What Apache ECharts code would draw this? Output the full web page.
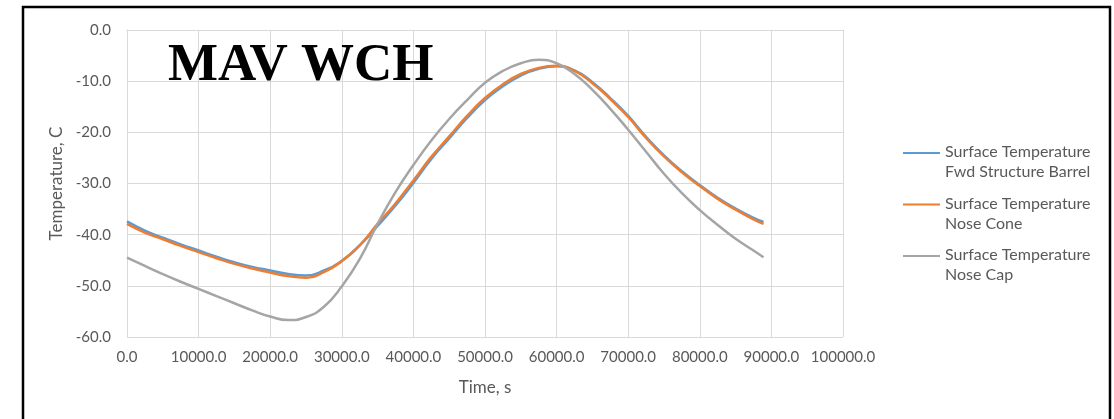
<!DOCTYPE html>
<html>
<head>
<meta charset="utf-8">
<script src="https://cdn.jsdelivr.net/npm/echarts@6/dist/echarts.min.js"></script>
<style>
  html, body { margin: 0; padding: 0; background: #fff; }
  #chart { width: 1114px; height: 419px; }
</style>
</head>
<body>
<div id="chart"></div>
<script>
// time, s
var times = [0, 2500, 5000, 7500, 10000, 12500, 15000, 17500, 20000, 22500, 25000, 27500,
  30000, 32500, 35000, 37500, 40000, 42500, 45000, 47500, 50000, 52500, 55000, 57500,
  60000, 62500, 65000, 67500, 70000, 72500, 75000, 77500, 80000, 82500, 85000, 87500, 88900];

var fwdBarrel = [-37.4, -39.2, -40.6, -41.9, -43.1, -44.3, -45.4, -46.3, -47.0, -47.7, -48.0, -47.0,
  -45.1, -42.1, -38.3, -34.3, -29.9, -25.2, -21.2, -17.2, -13.7, -11.0, -8.9, -7.6,
  -7.1, -7.9, -10.2, -13.3, -16.8, -20.9, -24.5, -27.6, -30.3, -32.8, -34.9, -36.7, -37.5];

var noseCone = [-37.9, -39.6, -40.9, -42.2, -43.4, -44.6, -45.7, -46.6, -47.4, -48.1, -48.4, -47.3,
  -45.2, -42.1, -37.9, -33.9, -29.4, -24.8, -20.8, -16.8, -13.3, -10.6, -8.6, -7.4,
  -7.0, -8.0, -10.4, -13.5, -17.0, -21.1, -24.7, -27.8, -30.5, -33.0, -35.1, -37.0, -37.9];

var noseCap = [-44.5, -46.1, -47.7, -49.2, -50.6, -52.0, -53.4, -54.8, -56.0, -56.7, -56.1, -54.1,
  -50.1, -44.8, -37.9, -31.7, -26.4, -21.6, -17.4, -13.7, -10.3, -8.0, -6.5, -5.8,
  -6.5, -8.6, -11.7, -15.4, -19.5, -23.8, -28.1, -31.9, -35.2, -38.1, -40.8, -43.1, -44.4];

var seriesNames = [
  'Surface Temperature\nFwd Structure Barrel',
  'Surface Temperature\nNose Cone',
  'Surface Temperature\nNose Cap'
];
var seriesColors = ['#5B9BD5', '#ED7D31', '#A5A5A5'];

function pairs(ys) {
  return times.map(function (t, i) { return [t, ys[i]]; });
}

var labelFont = 'Lato';
var labelColor = '#595959';
var gridColor = '#D9D9D9';

var myChart = echarts.init(document.getElementById('chart'));
myChart.setOption({
  animation: false,
  color: seriesColors,
  title: {
    text: 'MAV WCH',
    left: 168,
    top: 40,
    padding: 0,
    textStyle: {
      fontFamily: 'Liberation Serif',
      fontWeight: 'bold',
      fontSize: 53,
      color: '#000'
    }
  },
  grid: {
    left: 127,
    right: 271,
    top: 30,
    bottom: 82,
    containLabel: false
  },
  legend: {
    orient: 'vertical',
    left: 903,
    top: 142,
    padding: 0,
    itemWidth: 37,
    itemHeight: 20,
    itemGap: 11.5,
    symbolKeepAspect: false,
    icon: 'path://M0,0L40,0L40,2L0,2Z M0,20L0.01,20L0.01,20.01L0,20.01Z',
    itemStyle: { borderWidth: 0 },
    textStyle: {
      fontFamily: labelFont,
      fontSize: 16,
      lineHeight: 20,
      color: labelColor
    },
    data: seriesNames
  },
  xAxis: {
    type: 'value',
    min: 0,
    max: 100000,
    interval: 10000,
    name: 'Time, s',
    nameLocation: 'middle',
    nameGap: 42,
    nameTextStyle: { fontFamily: labelFont, fontSize: 17, color: labelColor },
    axisLine: { show: true, lineStyle: { color: gridColor, width: 1 } },
    axisTick: { show: false },
    axisLabel: {
      fontFamily: labelFont,
      fontSize: 15,
      color: labelColor,
      margin: 13,
      formatter: function (v) { return v.toFixed(1); }
    },
    splitLine: { show: true, lineStyle: { color: gridColor, width: 1 } }
  },
  yAxis: {
    type: 'value',
    min: -60,
    max: 0,
    interval: 10,
    name: 'Temperature, C',
    nameLocation: 'middle',
    nameGap: 54,
    nameTextStyle: { fontFamily: labelFont, fontSize: 17, color: labelColor },
    axisLine: { show: true, lineStyle: { color: gridColor, width: 1 } },
    axisTick: { show: false },
    axisLabel: {
      fontFamily: labelFont,
      fontSize: 15,
      color: labelColor,
      margin: 16,
      formatter: function (v) { return v.toFixed(1); }
    },
    splitLine: { show: true, lineStyle: { color: gridColor, width: 1 } }
  },
  graphic: [{
    type: 'rect',
    silent: true,
    shape: { x: 23, y: 7, width: 1087, height: 440 },
    style: { fill: 'none', stroke: '#000', lineWidth: 2.5 }
  }],
  series: [{
    name: seriesNames[0],
    type: 'line',
    data: pairs(fwdBarrel),
    smooth: 0.5,
    showSymbol: false,
    lineStyle: { width: 2.5 }
  }, {
    name: seriesNames[1],
    type: 'line',
    data: pairs(noseCone),
    smooth: 0.5,
    showSymbol: false,
    lineStyle: { width: 2.5 }
  }, {
    name: seriesNames[2],
    type: 'line',
    data: pairs(noseCap),
    smooth: 0.5,
    showSymbol: false,
    lineStyle: { width: 2.5 }
  }]
});
</script>
</body>
</html>
